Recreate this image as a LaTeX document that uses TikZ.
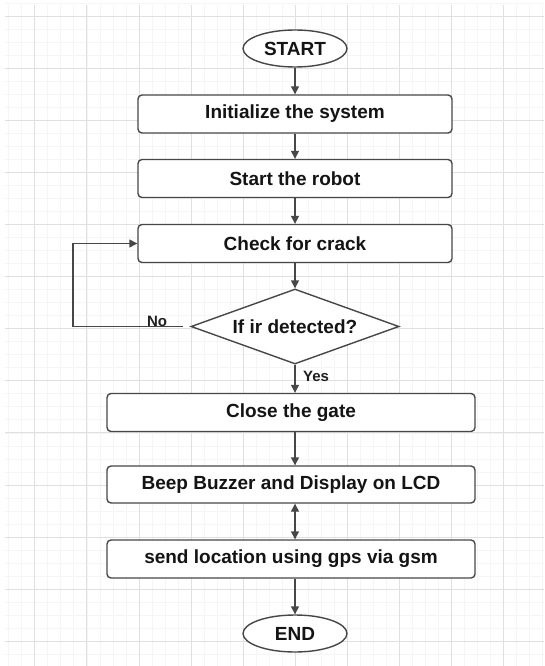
\documentclass[tikz,border=0pt]{standalone}
\usepackage{fontspec}
\setmainfont{Liberation Sans}
\usepackage{tikz}
\usetikzlibrary{shapes.geometric, arrows.meta, positioning}

\begin{document}
\begin{tikzpicture}[
    x=1pt, y=-1pt,
    proc/.style={rectangle, draw=black!72, line width=1.4pt, rounded corners=4pt, fill=white, minimum height=38pt, text=black!92, font=\fontsize{19}{21}\selectfont\bfseries},
    term/.style={ellipse, draw=black!72, line width=1.4pt, fill=white, minimum width=104pt, minimum height=37pt, inner sep=0pt, text=black!92, font=\fontsize{19}{21}\selectfont\bfseries},
    dec/.style={diamond, draw=black!72, line width=1.4pt, fill=white, aspect=2.77, minimum width=208pt, minimum height=75pt, inner sep=0pt, text=black!92, font=\fontsize{19}{21}\selectfont\bfseries},
    arrow/.style={-{Triangle[length=8pt,width=8pt]}, line width=1.4pt, draw=black!72},
    lbl/.style={inner sep=0pt, text=black!88, font=\fontsize{15}{16}\selectfont\bfseries},
    minorline/.style={draw=black!4, line width=0.6pt},
    majorline/.style={draw=black!12, line width=0.8pt}
]
    \useasboundingbox[fill=white] (0,0) rectangle (544,666);

    % background grid
    \foreach \i in {0,...,41} \draw[minorline] ({8.65+13.025*\i},5) -- ({8.65+13.025*\i},666);
    \foreach \i in {0,...,50} \draw[minorline] (5,{2.975+13.025*\i}) -- (544,{2.975+13.025*\i});
    \foreach \i in {0,...,9} \draw[majorline] ({34.7+52.1*\i},5) -- ({34.7+52.1*\i},666);
    \foreach \i in {0,...,12} \draw[majorline] (5,{16+52.1*\i}) -- (544,{16+52.1*\i});

    \node[term] (start) at (295,48.5) {START};
    \node[proc, minimum width=314pt] (init) at (295,114) {Initialize the system};
    \node[proc, minimum width=314pt] (robot) at (295,178.5) {Start the robot};
    \node[proc, minimum width=314pt] (check) at (295,243.5) {Check for crack};
    \node[dec] (ir) at (295,326.5) {If ir detected?};
    \node[proc, minimum width=368pt] (gate) at (291,412.5) {Close the gate};
    \node[proc, minimum width=368pt, minimum height=37pt] (beep) at (291,484.5) {Beep Buzzer and Display on LCD};
    \node[proc, minimum width=368pt] (send) at (291,559) {send location using gps via gsm};
    \node[term] (end) at (295,633.5) {END};

    \node[lbl] (no) at (157,321) {No};
    \node[lbl] (yes) at (316,376) {Yes};
    \coordinate (loop) at (73,243.5);

    \draw[arrow] (start) -- (init);
    \draw[arrow] (init) -- (robot);
    \draw[arrow] (robot) -- (check);
    \draw[arrow] (check) -- (ir);
    \draw[arrow] (ir) -- (ir |- gate.north);
    \draw[arrow] (gate.south -| ir) -- (ir |- beep.north);
    \draw[arrow, {Triangle[length=8pt,width=8pt]}-{Triangle[length=8pt,width=8pt]}] (beep.south -| ir) -- (ir |- send.north);
    \draw[arrow] (send.south -| ir) -- (end);
    \draw[arrow] ([xshift=-7pt]ir.west) -- (ir.west -| loop) |- (check.west);
\end{tikzpicture}
\end{document}
